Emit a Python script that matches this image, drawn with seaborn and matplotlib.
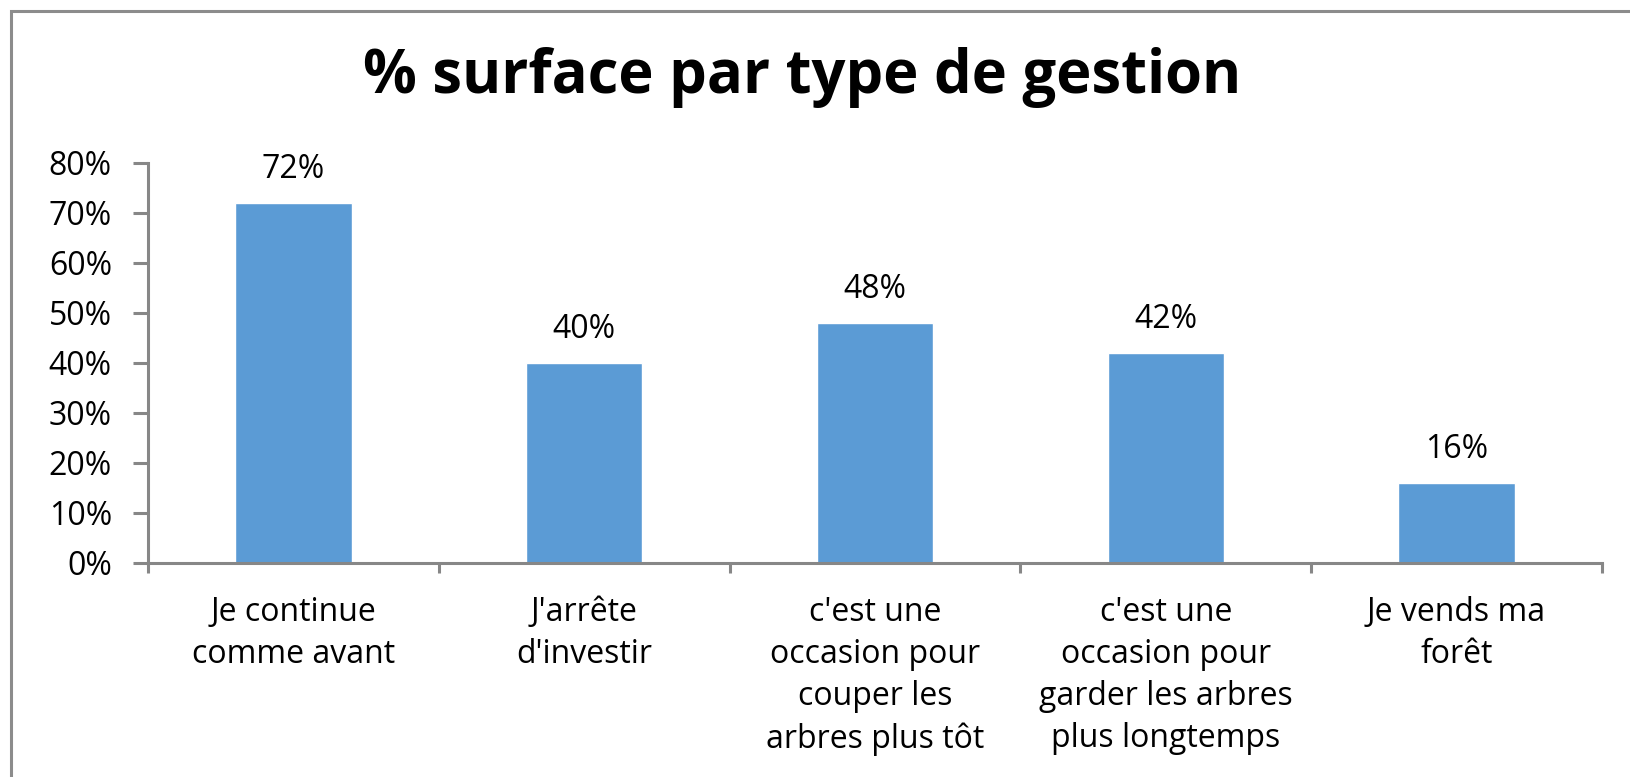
import numpy as np
import pandas as pd
import seaborn as sns
import matplotlib.pyplot as plt
from matplotlib.patches import Rectangle

# data
categories = [
    "Je continue\ncomme avant",
    "J'arrête\nd'investir",
    "c'est une\noccasion pour\ncouper les\narbres plus tôt",
    "c'est une\noccasion pour\ngarder les arbres\nplus longtemps",
    "Je vends ma\nforêt",
]
values = [0.72, 0.40, 0.48, 0.42, 0.16]
y_ticks = [0.0, 0.1, 0.2, 0.3, 0.4, 0.5, 0.6, 0.7, 0.8]

sns.set_style("white")
plt.rcParams["font.family"] = ["Open Sans", "DejaVu Sans"]
plt.rcParams["text.color"] = "black"

df = pd.DataFrame({"gestion": categories, "part": values})

fig = plt.figure(figsize=(16.3, 7.77), dpi=100)
ax = fig.add_axes([0.0908, 0.2758, 0.892, 0.5148])

grey = "#878787"
sns.barplot(data=df, x="gestion", y="part", color="#5B9BD5", saturation=1,
            width=0.4, ax=ax)

ax.set_ylim(0, 0.8)
ax.set_xlim(-0.5, len(categories) - 0.5)
ax.set_yticks(y_ticks)
ax.set_yticklabels([f"{int(round(t * 100))}%" for t in y_ticks], fontsize=23)
ax.set_xticks(range(len(categories)))
ax.set_xticklabels(categories, fontsize=23, linespacing=1.36, va="top")
ax.set_xticks(np.arange(-0.5, len(categories), 1.0), minor=True)
ax.set_xlabel("")
ax.set_ylabel("")

# axis styling
for side in ["top", "right"]:
    ax.spines[side].set_visible(False)
for side in ["left", "bottom"]:
    ax.spines[side].set_color(grey)
    ax.spines[side].set_linewidth(2.2)
ax.tick_params(axis="y", which="major", direction="out", length=11, width=2.2,
               color=grey, pad=15, left=True, labelcolor="black")
ax.tick_params(axis="x", which="major", length=0, pad=24, labelcolor="black")
ax.tick_params(axis="x", which="minor", direction="out", length=7, width=2.2,
               color=grey, bottom=True)

# value labels above bars
for container in ax.containers:
    ax.bar_label(container, labels=[f"{int(round(v * 100))}%" for v in values],
                 padding=12, fontsize=23, color="black")

fig.text(0.492, 0.9, "% surface par type de gestion", ha="center", va="center",
         fontsize=43, fontweight="bold", color="black")

# outer chart frame (left and top edges visible)
fig.patches.append(Rectangle((11 / 1630, -0.05), 1.2, 1 - 11 / 777 + 0.05,
                             transform=fig.transFigure, fill=False,
                             edgecolor="#8c8c8c", linewidth=2.2))

plt.savefig("out.png", dpi=100)
